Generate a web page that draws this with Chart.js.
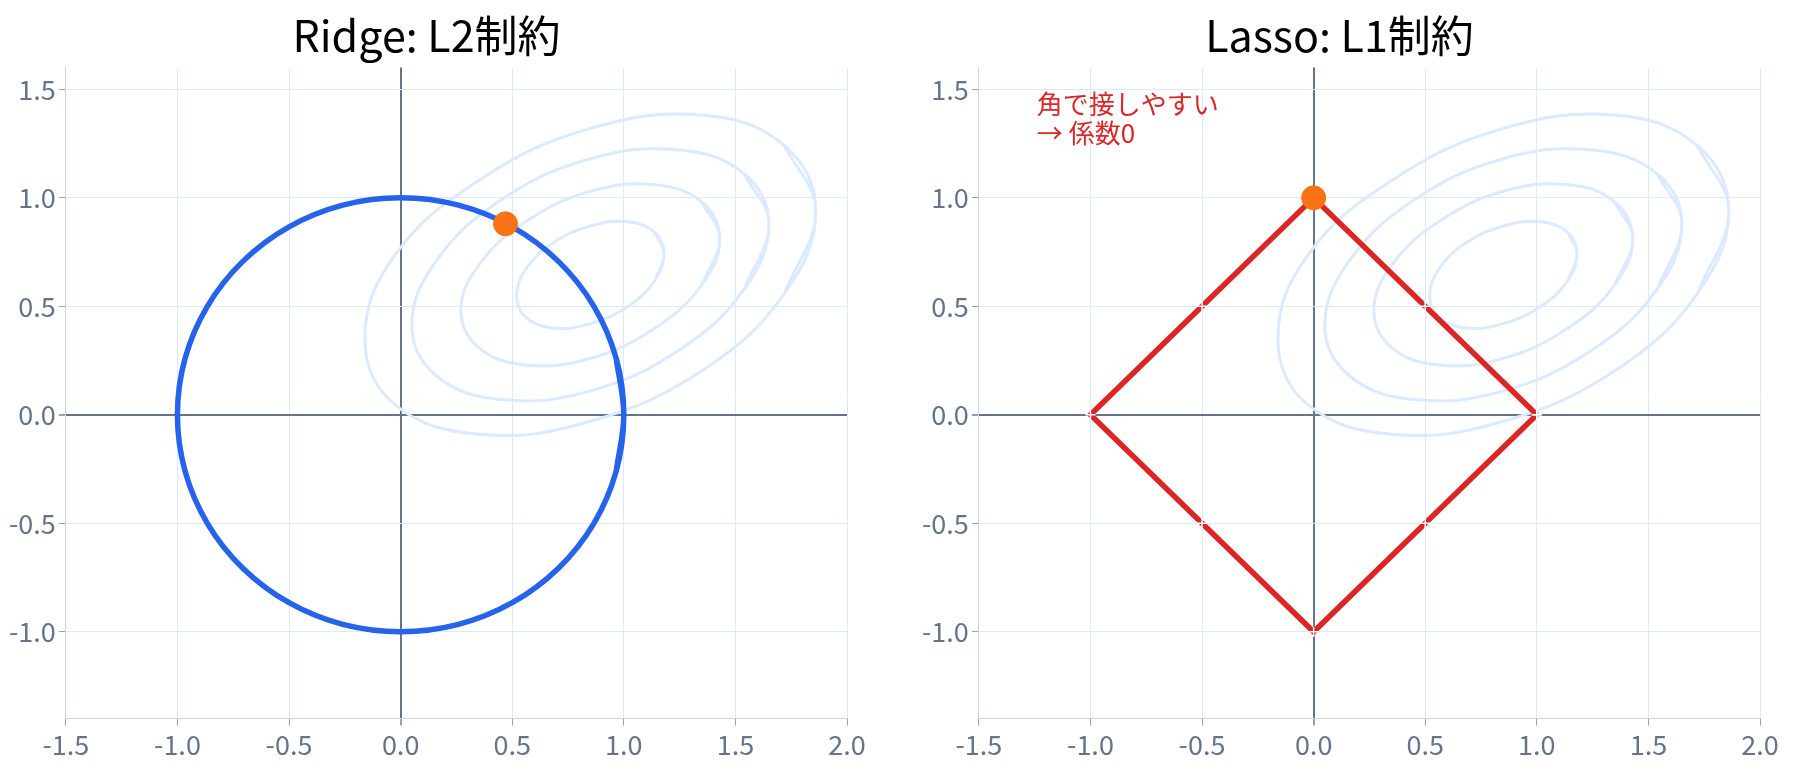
<!DOCTYPE html>
<html>
<head>
<meta charset="utf-8">
<script src="https://cdn.jsdelivr.net/npm/chart.js@4.4.1/dist/chart.umd.min.js"></script>
<style>
  body { margin: 0; background: #fff; }
  .wrap { position: absolute; top: 0; width: 887px; height: 782px; }
</style>
</head>
<body>
<div class="wrap" style="left:0"><canvas id="ridge"></canvas></div>
<div class="wrap" style="left:913px"><canvas id="lasso"></canvas></div>
<script>
// contour ellipses of the loss
const contour1 = [[1.86,0.94],[1.72,1.24],[1.36,1.38],[0.85,1.32],[0.35,1.08],[-0.03,0.73],[-0.16,0.35],[-0.03,0.05],[0.35,-0.09],[0.85,-0.03],[1.36,0.21],[1.72,0.56],[1.86,0.94]];
const contour2 = [[1.65,0.88],[1.54,1.11],[1.25,1.22],[0.85,1.18],[0.45,0.99],[0.16,0.71],[0.05,0.41],[0.16,0.18],[0.45,0.07],[0.85,0.11],[1.25,0.30],[1.54,0.58],[1.65,0.88]];
const contour3 = [[1.43,0.81],[1.35,0.98],[1.14,1.06],[0.85,1.03],[0.56,0.89],[0.35,0.69],[0.27,0.48],[0.35,0.31],[0.56,0.23],[0.85,0.26],[1.14,0.40],[1.35,0.60],[1.43,0.81]];
const contour4 = [[1.18,0.74],[1.14,0.84],[1.02,0.89],[0.85,0.87],[0.68,0.79],[0.56,0.67],[0.52,0.55],[0.56,0.45],[0.68,0.40],[0.85,0.42],[1.02,0.50],[1.14,0.62],[1.18,0.74]];
// L2 ball
const circleX = [1,0.966,0.866,0.707,0.5,0.259,0,-0.259,-0.5,-0.707,-0.866,-0.966,-1,-0.966,-0.866,-0.707,-0.5,-0.259,0,0.259,0.5,0.707,0.866,0.966,1];
const circleY = [0,0.259,0.5,0.707,0.866,0.966,1,0.966,0.866,0.707,0.5,0.259,0,-0.259,-0.5,-0.707,-0.866,-0.966,-1,-0.966,-0.866,-0.707,-0.5,-0.259,0];
// L1 ball
const diamondX = [1,0.5,0,-0.5,-1,-0.5,0,0.5,1];
const diamondY = [0,0.5,1,0.5,0,-0.5,-1,-0.5,0];
const ridgeSol = [0.47, 0.88];
const lassoSol = [0, 1];
const yTicks = [-1.0,-0.5,0.0,0.5,1.0,1.5];
const noteLines = ['角で接しやすい', '→ 係数0'];

const FONT = "'Noto Sans CJK JP', 'Noto Sans', sans-serif";
const toXY = arr => arr.map(p => ({x: p[0], y: p[1]}));
const zip = (xs, ys) => xs.map((x, i) => ({x: x, y: ys[i]}));
// closed curve: repeat one point on each side so the spline joins smoothly
const closeLoop = pts => [pts[pts.length - 2]].concat(pts, [pts[1]]);

function contourSets() {
  return [contour1, contour2, contour3, contour4].map(c => ({
    data: closeLoop(toXY(c)), borderColor: '#dbeafe', borderWidth: 3, pointRadius: 0,
    tension: 0.4, showLine: true, fill: false
  }));
}

function scalesCfg() {
  const grid = {
    color: c => c.tick && c.tick.value === 0 ? '#64748b' : '#dbeafe',
    lineWidth: c => c.tick && c.tick.value === 0 ? 2 : 1,
    tickColor: '#94a3b8', tickLength: 7
  };
  const ticks = {color: '#64748b', font: {family: FONT, size: 27}, callback: v => v.toFixed(1)};
  return {
    x: {type: 'linear', min: -1.5, max: 2.0, ticks: Object.assign({stepSize: 0.5}, ticks),
        grid: grid, border: {color: '#cbd5e1'}},
    y: {type: 'linear', min: -1.4, max: 1.6, ticks: ticks, grid: grid, border: {color: '#cbd5e1'},
        afterBuildTicks: ax => { ax.ticks = yTicks.map(v => ({value: v})); }}
  };
}

const notePlugin = {
  id: 'note',
  afterDatasetsDraw(chart) {
    if (chart.canvas.id !== 'lasso') return;
    const ctx = chart.ctx, sx = chart.scales.x, sy = chart.scales.y;
    ctx.save();
    ctx.fillStyle = '#dc2626';
    ctx.font = '26px ' + FONT;
    ctx.textBaseline = 'top';
    noteLines.forEach((t, i) => ctx.fillText(t, sx.getPixelForValue(-1.24), sy.getPixelForValue(1.49) + i * 29));
    ctx.restore();
  }
};

function makeChart(id, title, shape) {
  new Chart(document.getElementById(id), {
    type: 'scatter',
    data: {datasets: shape.concat(contourSets())},
    options: {
      responsive: true, maintainAspectRatio: false, animation: false,
      layout: {padding: {left: 6, right: 40, top: 0, bottom: 18}},
      plugins: {
        legend: {display: false}, tooltip: {enabled: false},
        title: {display: true, text: title, color: '#000', font: {family: FONT, size: 43, weight: 'normal'},
                padding: {top: 10, bottom: 6}}
      },
      scales: scalesCfg()
    },
    plugins: [notePlugin]
  });
}

makeChart('ridge', 'Ridge: L2制約', [
  {data: [{x: ridgeSol[0], y: ridgeSol[1]}], pointRadius: 12, backgroundColor: '#f97316', borderColor: '#f97316', order: -2},
  {data: closeLoop(zip(circleX, circleY)), borderColor: '#2563eb', borderWidth: 5.5, pointRadius: 0, showLine: true, tension: 0.35, order: -1}
]);
makeChart('lasso', 'Lasso: L1制約', [
  {data: [{x: lassoSol[0], y: lassoSol[1]}], pointRadius: 12, backgroundColor: '#f97316', borderColor: '#f97316', order: -2},
  {data: zip(diamondX, diamondY), borderColor: '#dc2626', borderWidth: 5.5, showLine: true, tension: 0,
   pointStyle: 'cross', pointRadius: 5, pointBorderColor: '#ffffff', pointBorderWidth: 1.5, order: -1}
]);
</script>
</body>
</html>
